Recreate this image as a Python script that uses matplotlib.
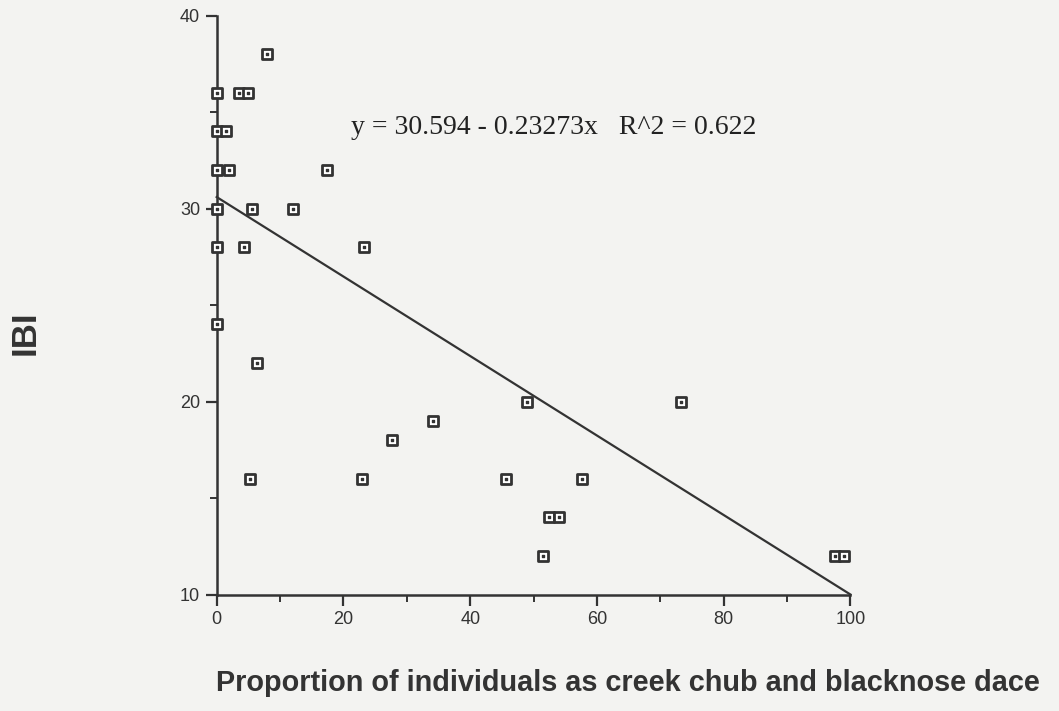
import matplotlib.pyplot as plt
from matplotlib.ticker import MultipleLocator

# proportion of creek chub + blacknose dace (%) vs IBI score
prop = [8.0, 0.0, 3.5, 5.0, 0.0, 1.5, 0.0, 1.9, 17.4, 0.0, 5.5, 12.0,
        0.0, 4.3, 23.3, 0.0, 6.3, 5.3, 23.0, 27.6, 34.2, 48.9, 73.2,
        45.7, 57.7, 52.5, 54.0, 51.5, 97.5, 99.0]
ibi = [38, 36, 36, 36, 34, 34, 32, 32, 32, 30, 30, 30,
       28, 28, 28, 24, 22, 16, 16, 18, 19, 20, 20,
       16, 16, 14, 14, 12, 12, 12]

# fitted line as drawn in the original figure
line_x = [0, 100]
line_y = [30.6, 10.0]
equation = "y = 30.594 - 0.23273x   R^2 = 0.622"

bg = "#f3f3f1"
ink = "#333333"

fig = plt.figure(figsize=(10.59, 7.11), dpi=100, facecolor=bg)
ax = fig.add_axes([0.2046, 0.1638, 0.5985, 0.8142], facecolor=bg)

ax.plot(line_x, line_y, color=ink, lw=1.6, clip_on=False, zorder=2)
ax.scatter(prop, ibi, marker="s", s=50, facecolor="white", edgecolor=ink,
           linewidth=2.0, clip_on=False, zorder=3)
ax.scatter(prop, ibi, marker="s", s=3, color=ink, clip_on=False, zorder=4)

ax.set_xlim(0, 100)
ax.set_ylim(10, 40)
ax.xaxis.set_major_locator(MultipleLocator(20))
ax.xaxis.set_minor_locator(MultipleLocator(10))
ax.yaxis.set_major_locator(MultipleLocator(10))
ax.yaxis.set_minor_locator(MultipleLocator(5))
for s in ["top", "right"]:
    ax.spines[s].set_visible(False)
for s in ["left", "bottom"]:
    ax.spines[s].set_color(ink)
    ax.spines[s].set_linewidth(1.8)
ax.tick_params(which="major", length=8, width=1.6, color=ink, labelcolor=ink,
               labelsize=13, pad=4)
ax.tick_params(which="minor", length=5, width=1.4, color=ink)
for lbl in ax.get_xticklabels() + ax.get_yticklabels():
    lbl.set_fontfamily("Liberation Sans")

ax.text(351 / 1059, 1 - 128 / 711, equation, transform=fig.transFigure,
        fontsize=20, family="Liberation Serif", color="#222222", va="center")

fig.text(25 / 1059, 1 - 333 / 711, "IBI", rotation=90, fontsize=25,
         fontweight="bold", family="Liberation Sans", color=ink,
         ha="center", va="center")
fig.text(628 / 1059, 1 - 683 / 711,
         "Proportion of individuals as creek chub and blacknose dace",
         fontsize=20.8, fontweight="bold", family="Liberation Sans", color=ink,
         ha="center", va="center")

fig.savefig("out.png", dpi=100, facecolor=bg)
